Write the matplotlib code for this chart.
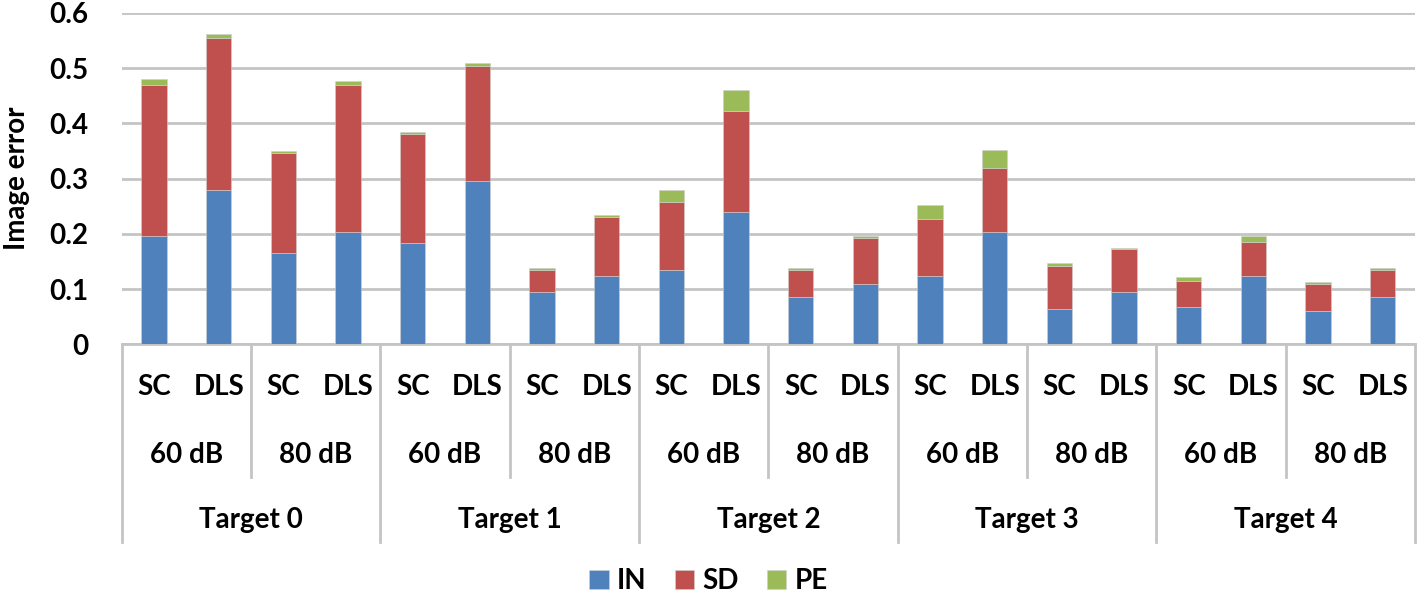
import numpy as np
import matplotlib
matplotlib.use("Agg")
import matplotlib.pyplot as plt
from matplotlib.lines import Line2D

plt.rcParams['font.family'] = ['Lato', 'DejaVu Sans']
plt.rcParams['font.weight'] = 'bold'

# data
targets = ['Target 0', 'Target 1', 'Target 2', 'Target 3', 'Target 4']
levels = ['60 dB', '80 dB']
methods = ['SC', 'DLS']

IN = [0.196, 0.280, 0.166, 0.204,
      0.183, 0.296, 0.095, 0.124,
      0.135, 0.240, 0.086, 0.110,
      0.124, 0.204, 0.064, 0.094,
      0.067, 0.124, 0.061, 0.086]
SD = [0.274, 0.274, 0.180, 0.266,
      0.198, 0.207, 0.039, 0.106,
      0.123, 0.182, 0.048, 0.083,
      0.102, 0.116, 0.078, 0.078,
      0.048, 0.061, 0.049, 0.048]
PE = [0.011, 0.008, 0.004, 0.006,
      0.004, 0.006, 0.004, 0.004,
      0.022, 0.039, 0.004, 0.003,
      0.027, 0.032, 0.006, 0.003,
      0.006, 0.011, 0.003, 0.004]

colors = {'IN': '#4F81BD', 'SD': '#C0504D', 'PE': '#9BBB59'}
fs = 20

fig = plt.figure(figsize=(14.17, 6.01), dpi=100)
ax = fig.add_axes([0.0859, 0.4271, 0.9127, 0.5516])

x = np.arange(len(IN))
IN = np.array(IN); SD = np.array(SD); PE = np.array(PE)
w = 0.39
ax.bar(x, IN, w, color=colors['IN'], label='IN', edgecolor='#d0d0d0', linewidth=0.4, zorder=3)
ax.bar(x, SD, w, bottom=IN, color=colors['SD'], label='SD', edgecolor='#d0d0d0', linewidth=0.4, zorder=3)
ax.bar(x, PE, w, bottom=IN + SD, color=colors['PE'], label='PE', edgecolor='#d0d0d0', linewidth=0.4, zorder=3)

ax.set_xlim(-0.5, len(IN) - 0.5)
ax.set_ylim(0, 0.6)
ax.set_yticks(np.arange(0, 0.61, 0.1))
ax.set_yticklabels(['0', '0.1', '0.2', '0.3', '0.4', '0.5', '0.6'], fontsize=fs, fontweight='bold')
ax.yaxis.grid(True, color='#c4c4c4', linewidth=2)
ax.set_axisbelow(True)
ax.tick_params(axis='y', length=0, pad=24)
ax.tick_params(axis='x', length=0, labelbottom=False)
for s in ['top', 'right', 'left']:
    ax.spines[s].set_visible(False)
ax.spines['bottom'].set_color('#c4c4c4')
ax.spines['bottom'].set_linewidth(2)
ax.set_ylabel('Image error', fontsize=fs, fontweight='bold', labelpad=14)

# multi-level category axis
tr = ax.get_xaxis_transform()
for i in range(len(IN)):
    ax.text(i, -0.13, methods[i % 2], transform=tr, ha='center', va='center',
            fontsize=fs, fontweight='bold')
for j in range(len(targets) * 2):
    ax.text(2 * j + 0.5, -0.335, levels[j % 2], transform=tr, ha='center', va='center',
            fontsize=fs, fontweight='bold')
for k, t in enumerate(targets):
    ax.text(4 * k + 1.5, -0.53, t, transform=tr, ha='center', va='center',
            fontsize=fs, fontweight='bold')

for j in range(len(targets) * 2 + 1):
    xb = 2 * j - 0.5
    y_end = -0.595 if j % 2 == 0 else -0.40
    ax.add_line(Line2D([xb, xb], [0, y_end], transform=tr, color='#c4c4c4',
                       linewidth=2, clip_on=False))

fig.legend(loc='lower center', bbox_to_anchor=(0.5, -0.03), ncol=3, frameon=False,
           fontsize=fs, handlelength=0.7, handleheight=0.7, handletextpad=0.3,
           columnspacing=1.0)

fig.savefig('out.png', dpi=100)
